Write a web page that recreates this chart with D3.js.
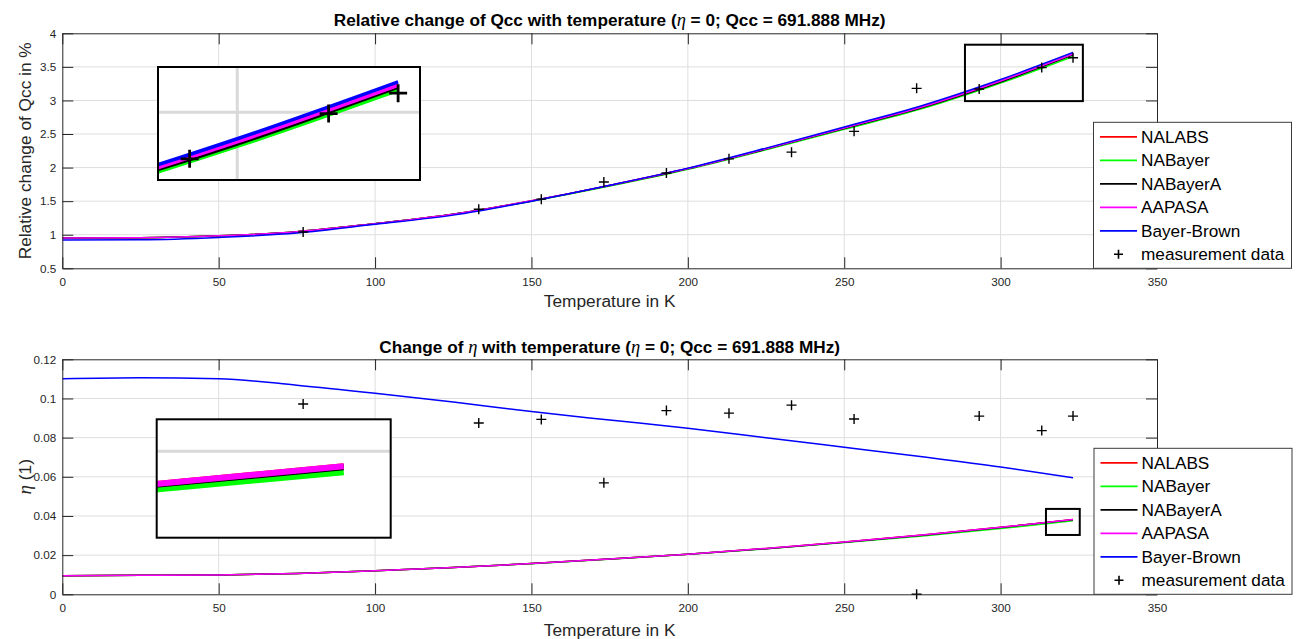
<!DOCTYPE html>
<html>
<head>
<meta charset="utf-8">
<script src="https://cdn.jsdelivr.net/npm/d3@7"></script>
<style>
  body { margin: 0; background: #fff; }
  svg text { font-family: "Liberation Sans", Arial, Helvetica, sans-serif; }
</style>
</head>
<body>
<svg id="fig" width="1298" height="639"></svg>
<script>
// ---- data ---------------------------------------------------------------
const temps = [0, 25, 50, 75, 100, 125, 150, 175, 200, 225, 250, 275, 300, 323.15];

// relative change of Qcc (%)
const qNALABS     = [0.950, 0.955, 0.985, 1.045, 1.165, 1.305, 1.505, 1.735, 1.985, 2.280, 2.590, 2.905, 3.290, 3.690];
const qNABayer    = [0.950, 0.955, 0.985, 1.045, 1.165, 1.305, 1.500, 1.725, 1.975, 2.265, 2.570, 2.878, 3.258, 3.655];
const qNABayerA   = [0.950, 0.955, 0.985, 1.045, 1.165, 1.305, 1.503, 1.732, 1.982, 2.275, 2.583, 2.895, 3.275, 3.678];
const qAAPASA     = [0.950, 0.955, 0.985, 1.045, 1.165, 1.305, 1.505, 1.735, 1.985, 2.280, 2.590, 2.905, 3.290, 3.690];
const qBayerBrown = [0.920, 0.925, 0.960, 1.025, 1.155, 1.292, 1.500, 1.737, 1.992, 2.290, 2.605, 2.925, 3.312, 3.715];

// asymmetry parameter eta
const eNALABS     = [0.0095, 0.0097, 0.0099, 0.0106, 0.0120, 0.0137, 0.0157, 0.0180, 0.0205, 0.0234, 0.0267, 0.0303, 0.0342, 0.0382];
const eNABayer    = [0.0095, 0.0097, 0.0099, 0.0106, 0.0120, 0.0137, 0.0156, 0.0179, 0.0204, 0.0232, 0.0264, 0.0298, 0.0336, 0.0375];
const eNABayerA   = [0.0095, 0.0097, 0.0099, 0.0106, 0.0120, 0.0137, 0.0157, 0.0180, 0.0205, 0.0233, 0.0266, 0.0302, 0.0341, 0.0381];
const eAAPASA     = [0.0095, 0.0097, 0.0099, 0.0106, 0.0120, 0.0137, 0.0157, 0.0180, 0.0205, 0.0234, 0.0267, 0.0303, 0.0342, 0.0382];
const eBayerBrown = [0.1101, 0.1106, 0.1101, 0.1068, 0.1027, 0.0982, 0.0933, 0.0890, 0.0848, 0.0800, 0.0751, 0.0702, 0.0650, 0.0595];

// measurements
const measTemps = [77, 133.15, 153.15, 173.15, 193.15, 213.15, 233.15, 253.15, 273.15, 293.15, 313.15, 323.15];
const measQcc   = [1.04, 1.38, 1.53, 1.785, 1.92, 2.13, 2.23, 2.54, 3.18, 3.17, 3.49, 3.635];
const measEta   = [0.0972, 0.0875, 0.0893, 0.0569, 0.0938, 0.0925, 0.0966, 0.0895, 0.0, 0.0910, 0.0836, 0.0910];

const seriesNames  = ["NALABS", "NABayer", "NABayerA", "AAPASA", "Bayer-Brown"];
const seriesColors = ["#ff0000", "#00ff00", "#000000", "#ff00ff", "#0000ff"];
const measName = "measurement data";

const xTicks   = [0, 50, 100, 150, 200, 250, 300, 350];
const qTicks   = [0.5, 1, 1.5, 2, 2.5, 3, 3.5, 4];
const etaTicks = [0, 0.02, 0.04, 0.06, 0.08, 0.1, 0.12];

// ---- layout -------------------------------------------------------------
const svg = d3.select("#fig");
const AX_L = 62.3, AX_R = 1157;
const TICK = 11;
const AXIS_COL = "#262626";
const GRID_COL = "#dedede";

const panels = [
  {
    id: "q", top: 33.3, bottom: 268.3, yDomain: [0.5, 4], yTicks: qTicks,
    series: [qNALABS, qNABayer, qNABayerA, qAAPASA, qBayerBrown], meas: measQcc,
    titleParts: ["Relative change of Qcc with temperature (", "η", " = 0; Qcc = 691.888 MHz)"],
    titleY: 26, xLabelY: 307,
    yLabel: [{t: "Relative change of Qcc in %", it: false}],
    zoomRect: {x: [288.6, 326.3], y: [2.99, 3.83]},
    inset: {box: [158, 67, 420, 180], x: [288.6, 326.3], y: [3.02, 3.82], lw: 3.5, mk: 9, mkw: 2.8},
    legend: {x: 1093.5, y: 122.3}
  },
  {
    id: "e", top: 359.3, bottom: 594.3, yDomain: [0, 0.12], yTicks: etaTicks,
    series: [eNALABS, eNABayer, eNABayerA, eAAPASA, eBayerBrown], meas: measEta,
    titleParts: ["Change of ", "η", " with temperature (", "η", " = 0; Qcc = 691.888 MHz)"],
    titleY: 353, xLabelY: 636,
    yLabel: [{t: "η", it: true}, {t: " (1)", it: false}],
    zoomRect: {x: [314.5, 325.3], y: [0.0303, 0.0436]},
    inset: {box: [156.7, 419.3, 390.7, 537.7], x: [311, 326.2], y: [0.0297, 0.0438], lw: 6, mk: 9, mkw: 2.8},
    legend: {x: 1094, y: 448.3}
  }
];

function plusPath(s) { return `M${-s},0H${s}M0,${-s}V${s}`; }

panels.forEach(p => {
  const g = svg.append("g");
  const x = d3.scaleLinear().domain([0, 350]).range([AX_L, AX_R]);
  const y = d3.scaleLinear().domain(p.yDomain).range([p.bottom, p.top]);

  // grid
  const grid = g.append("g");
  grid.selectAll(".gx").data(xTicks.slice(1, -1)).join("line")
    .attr("x1", d => x(d)).attr("x2", d => x(d)).attr("y1", p.top).attr("y2", p.bottom)
    .attr("stroke", GRID_COL).attr("stroke-width", 1);
  grid.selectAll(".gy").data(p.yTicks.slice(1, -1)).join("line")
    .attr("y1", d => y(d)).attr("y2", d => y(d)).attr("x1", AX_L).attr("x2", AX_R)
    .attr("stroke", GRID_COL).attr("stroke-width", 1);

  // clip for the curves
  g.append("clipPath").attr("id", "clip-" + p.id).append("rect")
    .attr("x", AX_L).attr("y", p.top).attr("width", AX_R - AX_L).attr("height", p.bottom - p.top);

  const line = d3.line().x(d => x(d[0])).y(d => y(d[1])).curve(d3.curveMonotoneX);
  const curves = g.append("g").attr("clip-path", `url(#clip-${p.id})`);
  p.series.forEach((vals, i) => {
    curves.append("path").datum(temps.map((t, k) => [t, vals[k]]))
      .attr("d", line).attr("fill", "none")
      .attr("stroke", seriesColors[i]).attr("stroke-width", 1.5);
  });

  // measurement markers
  g.append("g").selectAll("path").data(measTemps.map((t, k) => [t, p.meas[k]])).join("path")
    .attr("transform", d => `translate(${x(d[0])},${y(d[1])})`)
    .attr("d", plusPath(5)).attr("stroke", "#000").attr("stroke-width", 1.4).attr("fill", "none");

  // axes (ticks point inward, box on)
  const fmt = d => String(d);
  const axB = g.append("g").attr("transform", `translate(0,${p.bottom})`)
    .call(d3.axisBottom(x).tickValues(xTicks).tickSizeInner(-TICK).tickSizeOuter(0).tickPadding(9.8).tickFormat(fmt));
  const axL = g.append("g").attr("transform", `translate(${AX_L},0)`)
    .call(d3.axisLeft(y).tickValues(p.yTicks).tickSizeInner(-TICK).tickSizeOuter(0).tickPadding(6).tickFormat(fmt));
  const axT = g.append("g").attr("transform", `translate(0,${p.top})`)
    .call(d3.axisTop(x).tickValues(xTicks).tickSizeInner(-TICK).tickSizeOuter(0).tickFormat(""));
  const axR = g.append("g").attr("transform", `translate(${AX_R},0)`)
    .call(d3.axisRight(y).tickValues(p.yTicks).tickSizeInner(-TICK).tickSizeOuter(0).tickFormat(""));
  [axB, axL, axT, axR].forEach(a => {
    a.select(".domain").attr("stroke", AXIS_COL).attr("stroke-width", 1);
    a.selectAll(".tick line").attr("stroke", AXIS_COL).attr("stroke-width", 1);
    a.selectAll(".tick text").attr("fill", AXIS_COL).style("font-size", "11.7px")
      .style("font-family", '"Liberation Sans", Arial, sans-serif');
  });

  // zoom region marker
  g.append("rect")
    .attr("x", x(p.zoomRect.x[0])).attr("y", y(p.zoomRect.y[1]))
    .attr("width", x(p.zoomRect.x[1]) - x(p.zoomRect.x[0]))
    .attr("height", y(p.zoomRect.y[0]) - y(p.zoomRect.y[1]))
    .attr("fill", "none").attr("stroke", "#000").attr("stroke-width", 2);

  // magnified inset
  const ib = p.inset.box;
  const ix = d3.scaleLinear().domain(p.inset.x).range([ib[0], ib[2]]);
  const iy = d3.scaleLinear().domain(p.inset.y).range([ib[3], ib[1]]);
  const ig = g.append("g");
  ig.append("rect").attr("x", ib[0]).attr("y", ib[1]).attr("width", ib[2] - ib[0]).attr("height", ib[3] - ib[1])
    .attr("fill", "#fff");
  ig.append("clipPath").attr("id", "iclip-" + p.id).append("rect")
    .attr("x", ib[0]).attr("y", ib[1]).attr("width", ib[2] - ib[0]).attr("height", ib[3] - ib[1]);
  const inner = ig.append("g").attr("clip-path", `url(#iclip-${p.id})`);
  inner.selectAll(".igx").data(xTicks.filter(t => t > p.inset.x[0] && t < p.inset.x[1])).join("line")
    .attr("x1", d => ix(d)).attr("x2", d => ix(d)).attr("y1", ib[1]).attr("y2", ib[3])
    .attr("stroke", "#d9d9d9").attr("stroke-width", 3);
  inner.selectAll(".igy").data(p.yTicks.filter(t => t > p.inset.y[0] && t < p.inset.y[1])).join("line")
    .attr("y1", d => iy(d)).attr("y2", d => iy(d)).attr("x1", ib[0]).attr("x2", ib[2])
    .attr("stroke", "#d9d9d9").attr("stroke-width", 3);
  const iline = d3.line().x(d => ix(d[0])).y(d => iy(d[1])).curve(d3.curveMonotoneX);
  p.series.forEach((vals, i) => {
    inner.append("path").datum(temps.map((t, k) => [t, vals[k]]))
      .attr("d", iline).attr("fill", "none")
      .attr("stroke", seriesColors[i]).attr("stroke-width", p.inset.lw).attr("stroke-linecap", "butt");
  });
  inner.selectAll(".imk").data(measTemps.map((t, k) => [t, p.meas[k]])
      .filter(d => d[0] >= p.inset.x[0] && d[0] <= p.inset.x[1] && d[1] >= p.inset.y[0] && d[1] <= p.inset.y[1]))
    .join("path")
    .attr("transform", d => `translate(${ix(d[0])},${iy(d[1])})`)
    .attr("d", plusPath(p.inset.mk)).attr("stroke", "#000").attr("stroke-width", p.inset.mkw).attr("fill", "none");
  ig.append("rect").attr("x", ib[0]).attr("y", ib[1]).attr("width", ib[2] - ib[0]).attr("height", ib[3] - ib[1])
    .attr("fill", "none").attr("stroke", "#000").attr("stroke-width", 2);

  // title (eta set in a serif italic face)
  const cx = (AX_L + AX_R) / 2;
  const title = g.append("text").attr("x", cx).attr("y", p.titleY).attr("text-anchor", "middle")
    .style("font-size", "17.2px").style("font-weight", "bold").attr("fill", "#000");
  p.titleParts.forEach(part => {
    const ts = title.append("tspan").text(part);
    if (part === "η") {
      ts.style("font-family", '"Liberation Serif", "DejaVu Serif", serif').style("font-style", "italic")
        .style("font-weight", "normal").style("font-size", "18.5px");
    }
  });

  // axis labels
  g.append("text").attr("x", cx).attr("y", p.xLabelY).attr("text-anchor", "middle")
    .style("font-size", "17.3px").attr("fill", AXIS_COL).text("Temperature in K");
  const yl = g.append("text").attr("transform", `translate(31,${(p.top + p.bottom) / 2}) rotate(-90)`)
    .attr("text-anchor", "middle").style("font-size", "17.3px").attr("fill", AXIS_COL);
  p.yLabel.forEach(part => {
    const ts = yl.append("tspan").text(part.t);
    if (part.it) ts.style("font-family", '"Liberation Serif", "DejaVu Serif", serif').style("font-style", "italic").style("font-size", "19px");
  });

  // legend
  const L = p.legend, LW = 198, LH = 146, STEP = 23.5;
  const lg = g.append("g").attr("transform", `translate(${L.x},${L.y})`);
  lg.append("rect").attr("width", LW).attr("height", LH).attr("fill", "#fff")
    .attr("stroke", "#3a3a3a").attr("stroke-width", 1);
  seriesNames.forEach((name, i) => {
    const yy = 14.5 + i * STEP;
    lg.append("line").attr("x1", 6.5).attr("x2", 43.5).attr("y1", yy).attr("y2", yy)
      .attr("stroke", seriesColors[i]).attr("stroke-width", 1.8);
    lg.append("text").attr("x", 47.5).attr("y", yy + 6).style("font-size", "17.2px").attr("fill", "#000").text(name);
  });
  const my = 14.5 + 5 * STEP;
  lg.append("path").attr("transform", `translate(25,${my})`).attr("d", plusPath(4.5))
    .attr("stroke", "#000").attr("stroke-width", 1.6);
  lg.append("text").attr("x", 47.5).attr("y", my + 6).style("font-size", "17.2px").attr("fill", "#000").text(measName);
});
</script>
</body>
</html>
